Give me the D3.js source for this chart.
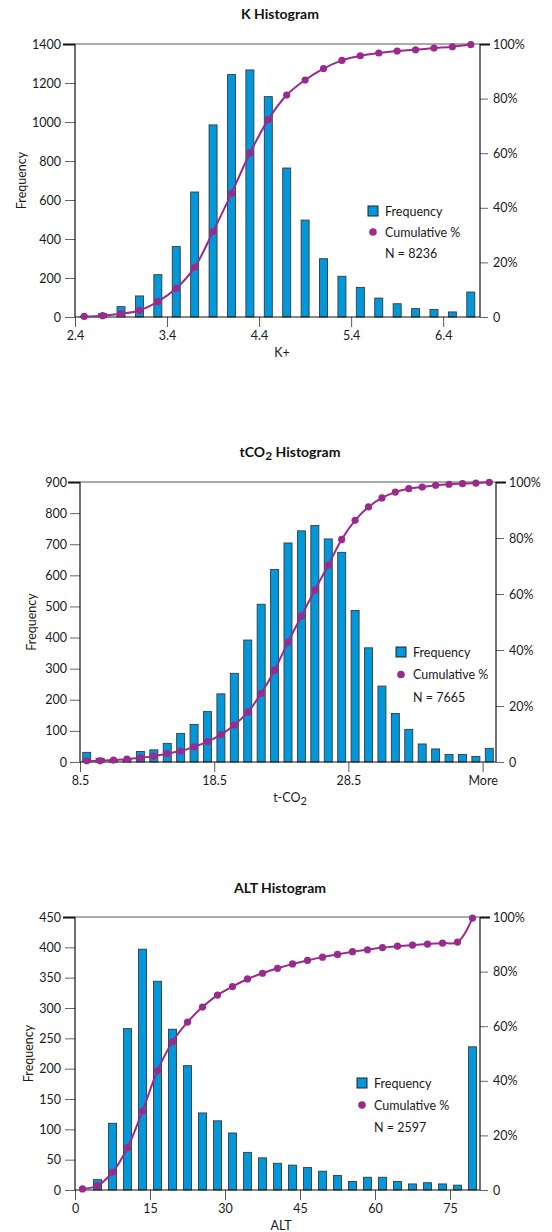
<!DOCTYPE html>
<html>
<head>
<meta charset="utf-8">
<script src="https://cdn.jsdelivr.net/npm/d3@7/dist/d3.min.js"></script>
<style>
  body { margin: 0; background: #fff; }
  svg { display: block; font-family: Lato, "Noto Sans", sans-serif; }
  .leg { font-size: 12.5px; fill: #1a1a1a; }
</style>
</head>
<body>
<svg id="chart" width="552" height="1232"></svg>
<script>
// ---- K histogram ----
var kBins = [2.5, 2.7, 2.9, 3.1, 3.3, 3.5, 3.7, 3.9, 4.1, 4.3, 4.5, 4.7, 4.9, 5.1, 5.3, 5.5, 5.7, 5.9, 6.1, 6.3, 6.5, 6.7];
var kFreq = [4, 17, 53, 108, 217, 361, 641, 985, 1243, 1267, 1130, 764, 497, 299, 209, 152, 97, 68, 43, 39, 26, 128];
var kCum = [0.2, 0.5, 1.2, 2.4, 5.6, 10.5, 18.2, 31.3, 45.3, 60.0, 72.3, 81.3, 86.8, 91.0, 94.0, 95.7, 96.7, 97.4, 97.9, 98.5, 99.0, 99.8];
var kTicks = [2.4, 3.4, 4.4, 5.4, 6.4];
var kTickLabels = ["2.4", "3.4", "4.4", "5.4", "6.4"];

// ---- tCO2 histogram ----
var cBins = [9, 10, 11, 12, 13, 14, 15, 16, 17, 18, 19, 20, 21, 22, 23, 24, 25, 26, 27, 28, 29, 30, 31, 32, 33, 34, 35, 36, 37, 38, 39];
var cFreq = [31, 12, 8, 8, 34, 39, 60, 92, 121, 162, 219, 285, 392, 507, 619, 704, 743, 760, 717, 674, 487, 367, 244, 156, 105, 58, 42, 24, 24, 18, 44];
var cCum = [0.4, 0.4, 0.7, 1.0, 1.5, 2.1, 3.0, 3.9, 5.4, 7.3, 9.8, 13.2, 17.8, 24.5, 32.8, 42.8, 52.1, 61.4, 70.3, 79.5, 86.3, 91.1, 94.3, 96.4, 97.6, 98.2, 98.8, 99.2, 99.4, 99.6, 99.9];
var cTicks = [8.5, 18.5, 28.5, 38.5];
var cTickLabels = ["8.5", "18.5", "28.5", "More"];

// ---- ALT histogram ----
var aBins = [1.5, 4.5, 7.5, 10.5, 13.5, 16.5, 19.5, 22.5, 25.5, 28.5, 31.5, 34.5, 37.5, 40.5, 43.5, 46.5, 49.5, 52.5, 55.5, 58.5, 61.5, 64.5, 67.5, 70.5, 73.5, 76.5, 79.5];
var aFreq = [0, 17, 110, 266, 397, 344, 265, 205, 127, 114, 94, 62, 53, 44, 41, 37, 31, 24, 14, 21, 21, 14, 10, 12, 10, 8, 236];
var aCum = [0.4, 1.6, 6.5, 15.5, 28.9, 43.7, 54.3, 61.5, 67.0, 71.4, 74.5, 77.3, 79.4, 81.2, 82.8, 84.1, 85.3, 86.3, 87.3, 88.0, 88.8, 89.3, 89.7, 90.1, 90.4, 90.8, 99.6];
var aTicks = [0, 15, 30, 45, 60, 75];
var aTickLabels = ["0", "15", "30", "45", "60", "75"];

var pctTicks = [0, 20, 40, 60, 80, 100];
var pctLabels = ["0", "20%", "40%", "60%", "80%", "100%"];

var barColor = "#0098da";
var cumColor = "#9b2a8e";
var fontStack = "Lato, 'Noto Sans', sans-serif";

var svg = d3.select("#chart");

function styleAxis(ax) {
  ax.attr("font-family", fontStack).attr("font-size", null);
  ax.select(".domain").remove();
  ax.selectAll("text").style("font-size", "12.5px").style("fill", "#1a1a1a");
}

function drawHist(opt) {
  var g = svg.append("g");
  var x = d3.scaleLinear().domain(opt.xDomain).range([opt.left, opt.right]);
  var y = d3.scaleLinear().domain([0, opt.yMax]).range([opt.bottom, opt.top]);
  var y2 = d3.scaleLinear().domain([0, 100]).range([opt.bottom, opt.top]);

  // title
  var t = g.append("text")
      .attr("x", opt.titleX).attr("y", opt.titleY)
      .attr("text-anchor", "middle")
      .style("font-size", "14px").style("font-weight", "bold").style("fill", "#111");
  opt.title.forEach(function(p) {
    var s = t.append("tspan").text(p.t);
    if (p.sub) s.attr("dy", 3).style("font-size", "12px");
    if (p.after) s.attr("dy", -3);
  });

  // bars
  g.selectAll("rect.bar")
    .data(opt.bins.map(function(b, i) { return {b: b, v: opt.freq[i]}; }))
    .enter().append("rect")
      .attr("class", "bar")
      .attr("x", function(d) { return x(d.b) - opt.barW / 2; })
      .attr("y", function(d) { return y(d.v); })
      .attr("width", opt.barW)
      .attr("height", function(d) { return y(0) - y(d.v); })
      .attr("fill", barColor)
      .attr("stroke", "#3a3a3a")
      .attr("stroke-width", 0.9);

  // left axis
  var ly = g.append("g")
      .attr("transform", "translate(" + opt.left + ",0)")
      .call(d3.axisLeft(y).tickValues(d3.range(0, opt.yMax + 1, opt.yStep))
        .tickSize(10).tickPadding(opt.lPad).tickFormat(d3.format("d")));
  styleAxis(ly);
  ly.selectAll("line").attr("stroke", "#666");
  ly.selectAll(".tick").filter(function(d) { return d === opt.yMax; })
    .select("line").attr("stroke", "#111").attr("stroke-width", 2).attr("x2", -12);

  // right axis
  var ry = g.append("g")
      .attr("transform", "translate(" + opt.right + ",0)")
      .call(d3.axisRight(y2).tickValues(pctTicks).tickSize(8).tickPadding(opt.rPad)
        .tickFormat(function(d, i) { return pctLabels[i]; }));
  styleAxis(ry);
  ry.selectAll("line").attr("stroke", "#666");
  ry.selectAll(".tick").filter(function(d) { return d === 100; })
    .select("line").attr("stroke", "#111").attr("stroke-width", 2).attr("x2", 10);

  // bottom axis
  var bx = g.append("g")
      .attr("transform", "translate(0," + opt.bottom + ")")
      .call(d3.axisBottom(x).tickValues(opt.ticks).tickSize(10).tickPadding(4)
        .tickFormat(function(d, i) { return opt.tickLabels[i]; }));
  styleAxis(bx);
  bx.selectAll("line").attr("stroke", "#555");

  // frame
  g.append("line").attr("x1", opt.left).attr("x2", opt.right)
    .attr("y1", opt.top).attr("y2", opt.top).attr("stroke", "#555").attr("stroke-width", 1);
  g.append("line").attr("x1", opt.left).attr("x2", opt.right)
    .attr("y1", opt.bottom).attr("y2", opt.bottom).attr("stroke", "#111").attr("stroke-width", 1.2);
  g.append("line").attr("x1", opt.left).attr("x2", opt.left)
    .attr("y1", opt.top).attr("y2", opt.bottom).attr("stroke", "#111").attr("stroke-width", 1.2);
  g.append("line").attr("x1", opt.right).attr("x2", opt.right)
    .attr("y1", opt.top).attr("y2", opt.bottom).attr("stroke", "#111").attr("stroke-width", 1.2);

  // cumulative line
  var pts = opt.bins.map(function(b, i) { return [x(b), y2(opt.cum[i])]; });
  g.append("path")
    .attr("d", d3.line().curve(d3.curveCatmullRom.alpha(0.5))(pts))
    .attr("fill", "none").attr("stroke", cumColor).attr("stroke-width", 2);
  g.selectAll("circle.cum").data(pts).enter().append("circle")
    .attr("cx", function(d) { return d[0]; })
    .attr("cy", function(d) { return d[1]; })
    .attr("r", 3.6).attr("fill", cumColor);

  // axis labels
  g.append("text")
    .attr("transform", "translate(" + opt.yLabX + "," + ((opt.top + opt.bottom) / 2) + ") rotate(-90)")
    .attr("text-anchor", "middle").attr("dy", "0.35em")
    .style("font-size", "12.5px").style("fill", "#1a1a1a").text("Frequency");
  var xl = g.append("text")
    .attr("x", opt.xLabX).attr("y", opt.bottom + 40)
    .attr("text-anchor", "middle")
    .style("font-size", "12.5px").style("fill", "#1a1a1a");
  opt.xLabel.forEach(function(p) {
    var s = xl.append("tspan").text(p.t);
    if (p.sub) s.attr("dy", 3).style("font-size", "11px");
  });

  // legend
  var lg = g.append("g").attr("transform", "translate(" + opt.legX + "," + opt.legY + ")");
  lg.append("rect").attr("x", -5).attr("y", -5).attr("width", 10).attr("height", 10)
    .attr("fill", barColor).attr("stroke", "#222").attr("stroke-width", 1);
  lg.append("circle").attr("cx", 0).attr("cy", opt.legGap).attr("r", 3.8).attr("fill", cumColor);
  lg.append("text").attr("class", "leg").attr("x", 12).attr("y", 0).attr("dy", "0.36em").text("Frequency");
  lg.append("text").attr("class", "leg").attr("x", 12).attr("y", opt.legGap).attr("dy", "0.36em").text("Cumulative %");
  lg.append("text").attr("class", "leg").attr("x", 12).attr("y", opt.legGap * 2).attr("dy", "0.36em").text(opt.nText);
}

drawHist({
  title: [{t: "K Histogram"}], titleX: 280, titleY: 19,
  bins: kBins, freq: kFreq, cum: kCum, ticks: kTicks, tickLabels: kTickLabels,
  xDomain: [2.4, 6.8], yMax: 1400, yStep: 200,
  left: 75, right: 480, top: 44, bottom: 317, barW: 8, lPad: 4, rPad: 5,
  yLabX: 22, xLabX: 282, xLabel: [{t: "K+"}],
  legX: 373, legY: 211, legGap: 21, nText: "N = 8236"
});

drawHist({
  title: [{t: "tCO"}, {t: "2", sub: true}, {t: " Histogram", after: true}], titleX: 290, titleY: 457,
  bins: cBins, freq: cFreq, cum: cCum, ticks: cTicks, tickLabels: cTickLabels,
  xDomain: [8.5, 39.5], yMax: 900, yStep: 100,
  left: 80, right: 496, top: 482, bottom: 762, barW: 8, lPad: 3, rPad: 5,
  yLabX: 32, xLabX: 290, xLabel: [{t: "t-CO"}, {t: "2", sub: true}],
  legX: 401, legY: 652, legGap: 22.5, nText: "N = 7665"
});

drawHist({
  title: [{t: "ALT Histogram"}], titleX: 280, titleY: 893,
  bins: aBins, freq: aFreq, cum: aCum, ticks: aTicks, tickLabels: aTickLabels,
  xDomain: [0, 81], yMax: 450, yStep: 50,
  left: 75, right: 480, top: 917, bottom: 1190, barW: 8, lPad: 4, rPad: 5,
  yLabX: 29, xLabX: 281, xLabel: [{t: "ALT"}],
  legX: 362, legY: 1083, legGap: 22, nText: "N = 2597"
});
</script>
</body>
</html>
